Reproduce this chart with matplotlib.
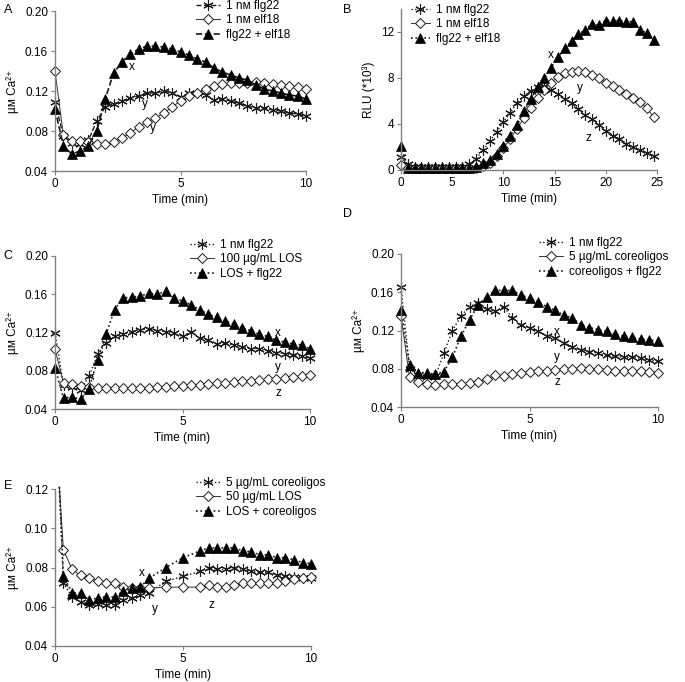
import numpy as np
import matplotlib
matplotlib.use("Agg")
import matplotlib.pyplot as plt

plt.rcParams['font.family'] = ['Liberation Sans', 'DejaVu Sans']
plt.rcParams['font.size'] = 8.5

# ---- data ----
# time grids (min)
t_A = np.arange(31) / 3
t_B = np.arange(38) * 2 / 3
t_E = [0.17, 0.33, 0.67, 1.0, 1.33, 1.67, 2.0, 2.33, 2.67, 3.0, 3.33, 3.67,
       4.33, 5.0, 5.67, 6.0, 6.33, 6.67, 7.0, 7.33, 7.67, 8.0, 8.33, 8.67,
       9.0, 9.33, 9.67, 10.0]

# A: Ca2+ (uM)
A_flg22 = [0.109, 0.075, 0.068, 0.067, 0.071, 0.090, 0.104, 0.107, 0.110, 0.113, 0.115,
           0.118, 0.118, 0.120, 0.118, 0.114, 0.118, 0.118, 0.116, 0.111, 0.112, 0.110,
           0.108, 0.105, 0.103, 0.103, 0.101, 0.100, 0.098, 0.097, 0.095]
A_elf18 = [0.140, 0.076, 0.070, 0.070, 0.069, 0.067, 0.067, 0.069, 0.073, 0.078, 0.084,
           0.089, 0.093, 0.098, 0.104, 0.110, 0.115, 0.118, 0.122, 0.125, 0.127, 0.128,
           0.128, 0.128, 0.129, 0.128, 0.127, 0.126, 0.125, 0.124, 0.122]
A_both = [0.102, 0.065, 0.057, 0.060, 0.065, 0.080, 0.112, 0.138, 0.149, 0.157, 0.162,
          0.165, 0.165, 0.164, 0.162, 0.159, 0.156, 0.152, 0.149, 0.143, 0.139, 0.136,
          0.133, 0.131, 0.126, 0.122, 0.120, 0.118, 0.116, 0.115, 0.112]

# B: RLU (*10^3)
B_flg22 = [1.1, 0.5, 0.3, 0.3, 0.3, 0.3, 0.3, 0.3, 0.3, 0.3, 0.5, 1.0, 1.7, 2.5, 3.3,
           4.2, 5.0, 5.8, 6.4, 6.9, 7.2, 7.3, 7.0, 6.6, 6.2, 5.8, 5.3, 4.8, 4.4, 3.9,
           3.4, 3.0, 2.7, 2.3, 2.0, 1.7, 1.5, 1.2]
B_elf18 = [0.4, 0.2, 0.2, 0.2, 0.2, 0.2, 0.2, 0.2, 0.2, 0.2, 0.2, 0.2, 0.35, 0.6, 1.2,
           1.9, 2.7, 3.6, 4.5, 5.4, 6.3, 7.0, 7.6, 8.1, 8.4, 8.5, 8.6, 8.5, 8.3, 8.0,
           7.6, 7.3, 7.0, 6.6, 6.3, 5.9, 5.4, 4.6]
B_both = [2.1, 0.15, 0.15, 0.15, 0.15, 0.15, 0.15, 0.15, 0.15, 0.15, 0.15, 0.3, 0.6, 0.9,
          1.4, 2.1, 3.0, 3.9, 5.1, 6.2, 7.2, 8.0, 8.9, 9.8, 10.6, 11.2, 11.8, 12.2,
          12.7, 12.6, 13.0, 13.0, 13.0, 12.9, 12.9, 12.2, 11.9, 11.3]

# C
C_flg22 = [0.120, 0.065, 0.063, 0.060, 0.074, 0.097, 0.109, 0.116, 0.118, 0.121, 0.123,
           0.124, 0.122, 0.121, 0.119, 0.116, 0.121, 0.114, 0.112, 0.108, 0.109, 0.107,
           0.105, 0.103, 0.103, 0.101, 0.099, 0.098, 0.096, 0.095, 0.093]
C_los = [0.103, 0.067, 0.066, 0.064, 0.063, 0.062, 0.062, 0.062, 0.062, 0.062, 0.062,
         0.062, 0.063, 0.063, 0.064, 0.064, 0.065, 0.065, 0.066, 0.067, 0.067, 0.068,
         0.069, 0.069, 0.070, 0.071, 0.071, 0.072, 0.073, 0.074, 0.076]
C_both = [0.083, 0.051, 0.053, 0.050, 0.061, 0.091, 0.118, 0.144, 0.156, 0.157, 0.158,
          0.161, 0.160, 0.163, 0.156, 0.153, 0.149, 0.144, 0.139, 0.136, 0.132, 0.129,
          0.125, 0.122, 0.118, 0.116, 0.112, 0.110, 0.108, 0.107, 0.103]

# D
D_flg22 = [0.165, 0.080, 0.073, 0.071, 0.072, 0.096, 0.120, 0.135, 0.145, 0.149, 0.143,
           0.140, 0.145, 0.133, 0.126, 0.123, 0.119, 0.114, 0.112, 0.107, 0.103, 0.100,
           0.098, 0.096, 0.094, 0.093, 0.092, 0.092, 0.091, 0.089, 0.088]
D_core = [0.135, 0.071, 0.066, 0.064, 0.063, 0.064, 0.064, 0.064, 0.065, 0.066, 0.069,
          0.073, 0.072, 0.074, 0.076, 0.077, 0.078, 0.078, 0.079, 0.080, 0.080, 0.081,
          0.080, 0.080, 0.079, 0.078, 0.078, 0.078, 0.078, 0.077, 0.076]
D_both = [0.141, 0.084, 0.076, 0.076, 0.074, 0.077, 0.092, 0.114, 0.131, 0.147, 0.155,
          0.162, 0.162, 0.162, 0.157, 0.154, 0.150, 0.145, 0.141, 0.136, 0.133, 0.126,
          0.123, 0.121, 0.119, 0.116, 0.114, 0.113, 0.111, 0.110, 0.109]

# E
E_core = [0.121, 0.072, 0.065, 0.0625, 0.061, 0.0615, 0.061, 0.061, 0.0635, 0.0645, 0.066,
          0.067, 0.073, 0.0755, 0.078, 0.080, 0.079, 0.079, 0.080, 0.079, 0.078, 0.0775,
          0.0775, 0.076, 0.0755, 0.075, 0.0745, 0.0745]
E_los = [0.121, 0.089, 0.079, 0.076, 0.0745, 0.073, 0.072, 0.072, 0.070, 0.0695, 0.0695,
         0.0695, 0.070, 0.070, 0.070, 0.071, 0.070, 0.070, 0.071, 0.072, 0.072, 0.072,
         0.072, 0.072, 0.073, 0.074, 0.0745, 0.075]
E_both = [0.121, 0.0755, 0.067, 0.067, 0.0635, 0.0645, 0.065, 0.065, 0.068, 0.0695, 0.070,
          0.0745, 0.080, 0.085, 0.0885, 0.090, 0.090, 0.090, 0.090, 0.0885, 0.088, 0.0865,
          0.0865, 0.085, 0.085, 0.084, 0.0825, 0.082]

fig = plt.figure(figsize=(6.85, 6.82), dpi=100)
W, H = 685, 682


def px_axes(left, top, right, bottom):
    return fig.add_axes([left / W, 1 - bottom / H, (right - left) / W, (bottom - top) / H])


ast = (6, 2, 0)
dark = '#1a1a1a'


def style(ax, xlim, xticks, ylim, yticks, yfmt, ylabel):
    ax.set_xlim(*xlim)
    ax.set_ylim(*ylim)
    ax.set_xticks(xticks)
    ax.set_yticks(yticks)
    ax.set_yticklabels([yfmt.format(v) for v in yticks])
    for s in ['top', 'right']:
        ax.spines[s].set_visible(False)
    for s in ['left', 'bottom']:
        ax.spines[s].set_color('#808080')
        ax.spines[s].set_linewidth(1.0)
    ax.tick_params(direction='out', length=3, width=0.8, color='#808080', labelsize=8.5, pad=2)
    ax.set_xlabel('Time (min)', fontsize=8.5, labelpad=3)
    ax.set_ylabel(ylabel, fontsize=8.5, labelpad=4)


def three(ax, t, s1, s2, s3, labels, ls1, ls3, me=None):
    ax.plot(t, s1, ls=ls1, color=dark, lw=1.0, marker=ast, ms=7.5, mew=0.8,
            mec=dark, label=labels[0], markevery=me, clip_on=False)
    ax.plot(t, s2, ls='-', color='#333333', lw=0.7, marker='D', ms=5, mew=0.7,
            mfc='white', mec=dark, label=labels[1], markevery=me, clip_on=False)
    ax.plot(t, s3, ls=ls3, color=dark, lw=1.2, marker='^', ms=7.5, mew=0.5,
            mfc='black', mec='black', label=labels[2], markevery=me, clip_on=False)


def legend(ax, x, y, hl=2.0):
    ax.legend(loc='upper left', bbox_to_anchor=(x / W, 1 - y / H),
              bbox_transform=fig.transFigure, frameon=False, fontsize=8.5,
              borderpad=0, borderaxespad=0, labelspacing=0.2, handlelength=hl,
              handletextpad=0.5)


ca_label = 'µᴍ Ca²⁺'

# Panel A
axA = px_axes(55, 11, 306, 171)
three(axA, t_A, A_flg22, A_elf18, A_both,
      ['1 nᴍ flg22', '1 nᴍ elf18', 'flg22 + elf18'], '--', '--')
style(axA, (0, 10), [0, 5, 10], (0.04, 0.20), [0.04, 0.08, 0.12, 0.16, 0.20],
      '{:.2f}', ca_label)
legend(axA, 196, 0)
axA.text(3.07, 0.144, 'x', ha='center', va='center', fontsize=8.5)
axA.text(3.6, 0.107, 'y', ha='center', va='center', fontsize=8.5)
axA.text(3.9, 0.083, 'y', ha='center', va='center', fontsize=8.5)

# Panel B
axB = px_axes(401, 9, 657, 170)
three(axB, t_B, B_flg22, B_elf18, B_both,
      ['1 nᴍ flg22', '1 nᴍ elf18', 'flg22 + elf18'], ':', ':')
style(axB, (0, 25), [0, 5, 10, 15, 20, 25], (0, 14), [0, 4, 8, 12],
      '{:.0f}', 'RLU (*10³)')
legend(axB, 411, 4, hl=1.6)
axB.text(14.6, 10.0, 'x', ha='center', va='center', fontsize=8.5)
axB.text(17.5, 7.1, 'y', ha='center', va='center', fontsize=8.5)
axB.text(18.3, 2.8, 'z', ha='center', va='center', fontsize=8.5)

# Panel C
axC = px_axes(55, 256, 310, 409)
three(axC, t_A, C_flg22, C_los, C_both,
      ['1 nᴍ flg22', '100 µg/mL LOS', 'LOS + flg22'], ':', ':')
style(axC, (0, 10), [0, 5, 10], (0.04, 0.20), [0.04, 0.08, 0.12, 0.16, 0.20],
      '{:.2f}', ca_label)
legend(axC, 190, 239)
axC.text(8.75, 0.120, 'x', ha='center', va='center', fontsize=8.5)
axC.text(8.75, 0.084, 'y', ha='center', va='center', fontsize=8.5)
axC.text(8.75, 0.057, 'z', ha='center', va='center', fontsize=8.5)

# Panel D
axD = px_axes(401, 254, 658, 407)
three(axD, t_A, D_flg22, D_core, D_both,
      ['1 nᴍ flg22', '5 µg/mL coreoligos', 'coreoligos + flg22'], ':', ':')
style(axD, (0, 10), [0, 5, 10], (0.04, 0.20), [0.04, 0.08, 0.12, 0.16, 0.20],
      '{:.2f}', ca_label)
legend(axD, 539, 237)
axD.text(6.07, 0.118, 'x', ha='center', va='center', fontsize=8.5)
axD.text(6.07, 0.092, 'y', ha='center', va='center', fontsize=8.5)
axD.text(6.07, 0.066, 'z', ha='center', va='center', fontsize=8.5)

# Panel E
axE = px_axes(55, 489, 311, 646)
three(axE, t_E, E_core, E_los, E_both,
      ['5 µg/mL coreoligos', '50 µg/mL LOS', 'LOS + coreoligos'], ':', ':',
      me=slice(1, None))
style(axE, (0, 10), [0, 5, 10], (0.04, 0.12), [0.04, 0.06, 0.08, 0.10, 0.12],
      '{:.2f}', ca_label)
legend(axE, 196, 477)
axE.text(3.4, 0.077, 'x', ha='center', va='center', fontsize=8.5)
axE.text(3.9, 0.059, 'y', ha='center', va='center', fontsize=8.5)
axE.text(6.1, 0.061, 'z', ha='center', va='center', fontsize=8.5)

# panel letters
for lab, x, y in [('A', 8, 10), ('B', 347, 10), ('C', 8, 256), ('D', 347, 214), ('E', 8, 486)]:
    fig.text(x / W, 1 - y / H, lab, ha='center', va='center', fontsize=9)

fig.savefig('out.png', dpi=100)
